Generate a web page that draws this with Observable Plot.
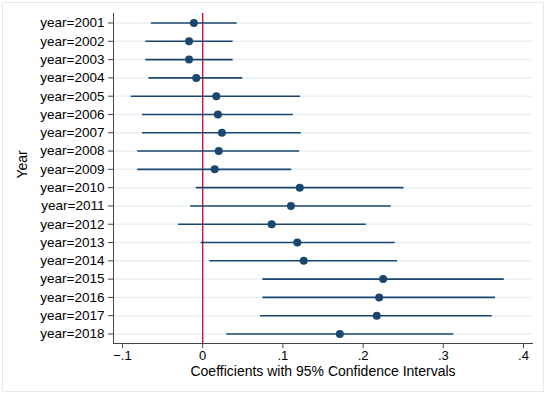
<!DOCTYPE html>
<html>
<head>
<meta charset="utf-8">
<script src="https://cdn.jsdelivr.net/npm/d3@7"></script>
<script src="https://cdn.jsdelivr.net/npm/@observablehq/plot@0.6"></script>
<style>
  body { margin: 0; background: #fff; }
  #chart svg { display: block; outline: 1px solid #e4ebee; outline-offset: -3px; }
</style>
</head>
<body>
<div id="chart"></div>
<script>
const years = ["year=2001","year=2002","year=2003","year=2004","year=2005","year=2006","year=2007","year=2008","year=2009","year=2010","year=2011","year=2012","year=2013","year=2014","year=2015","year=2016","year=2017","year=2018"];
const coef = [-0.011,-0.017,-0.017,-0.008,0.017,0.019,0.024,0.020,0.015,0.121,0.110,0.086,0.118,0.126,0.225,0.220,0.217,0.171];
const lower = [-0.064,-0.071,-0.071,-0.067,-0.089,-0.075,-0.075,-0.081,-0.081,-0.008,-0.015,-0.030,-0.002,0.009,0.075,0.075,0.072,0.030];
const upper = [0.043,0.038,0.038,0.050,0.122,0.113,0.123,0.121,0.111,0.251,0.235,0.204,0.240,0.243,0.376,0.365,0.361,0.313];
const xTicks = [-0.1,0,0.1,0.2,0.3,0.4];
const xLabel = "Coefficients with 95% Confidence Intervals";
const yLabel = "Year";

const data = years.map((y,i) => ({year: y, coef: coef[i], lo: lower[i], hi: upper[i]}));
const fmt = d => d === 0 ? "0" : d3.format(".1f")(d).replace("0.", ".");

const navy = "#1a476f";
const chart = Plot.plot({
  width: 546, height: 394,
  marginLeft: 113, marginRight: 14, marginTop: 13, marginBottom: 51,
  style: {fontFamily: "'Liberation Sans', Arial, sans-serif", fontSize: "13px", background: "white", color: "#000", overflow: "visible"},
  x: {domain: [-0.1112, 0.4112]},
  y: {type: "point", domain: years, padding: 0.52, round: false},
  marks: [
    Plot.ruleY(data, {y: "year", stroke: "#e9eff2", strokeWidth: 1.5}),
    Plot.ruleX([0], {stroke: "#d0103a", strokeWidth: 1.4}),
    Plot.ruleY(data, {y: "year", x1: "lo", x2: "hi", stroke: navy, strokeWidth: 1.6}),
    Plot.dot(data, {x: "coef", y: "year", r: 4, fill: navy, stroke: "none"}),
    Plot.axisX({ticks: xTicks, tickFormat: fmt, tickSize: 5, tickPadding: 2, label: null, stroke: "#444", fontSize: 13}),
    Plot.axisY({tickSize: 5, tickPadding: 4, label: null, stroke: "#444", fontSize: 13.5}),
    Plot.frame({anchor: "left", stroke: "#444"}),
    Plot.frame({anchor: "bottom", stroke: "#444"}),
    Plot.text([xLabel], {frameAnchor: "bottom", dy: 32, fontSize: 14, fill: "#000"}),
    Plot.text([yLabel], {frameAnchor: "left", dx: -91, rotate: -90, fontSize: 14, fill: "#000"})
  ]
});
document.getElementById("chart").appendChild(chart);
</script>
</body>
</html>
